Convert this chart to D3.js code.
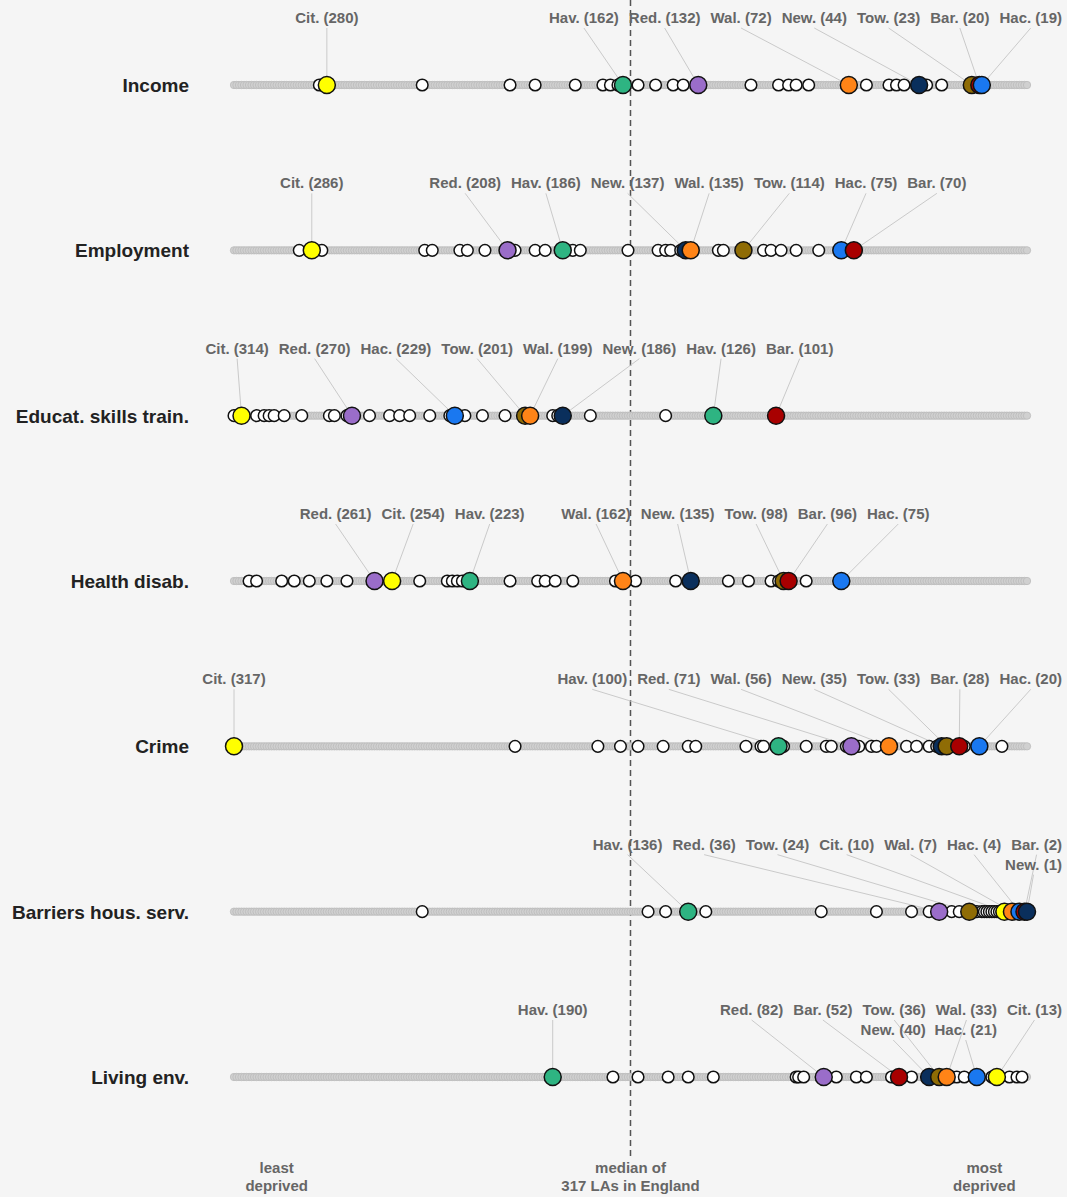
<!DOCTYPE html>
<html><head><meta charset="utf-8">
<script src="https://cdn.jsdelivr.net/npm/d3@7"></script>
<style>body{margin:0;background:#f5f5f5;} svg{display:block;}</style>
</head><body>
<svg id="chart" width="1067" height="1197"></svg>
<script>
// ---------------- data ----------------
const domains = ["Income", "Employment", "Educat. skills train.", "Health disab.", "Crime", "Barriers hous. serv.", "Living env."];
const boroughs = ["Cit.", "Hav.", "Red.", "Wal.", "New.", "Tow.", "Bar.", "Hac."];
// rank (1 = most deprived of 317) per domain, same order as `domains`
const citRanks = [280, 286, 314, 254, 317, 10, 13];
const havRanks = [162, 186, 126, 223, 100, 136, 190];
const redRanks = [132, 208, 270, 261, 71, 36, 82];
const walRanks = [72, 135, 199, 162, 56, 7, 33];
const newRanks = [44, 137, 186, 135, 35, 1, 40];
const towRanks = [23, 114, 201, 98, 33, 24, 36];
const barRanks = [20, 70, 101, 96, 28, 2, 52];
const hacRanks = [19, 75, 229, 75, 20, 4, 21];
// other London LAs, per domain
const otherIncome = [283, 242, 207, 197, 181, 170, 167, 164, 156, 149, 142, 138, 111, 100, 96, 93, 88, 65, 56, 53, 50, 41, 35, 22, 21];
const otherEmployment = [291, 282, 241, 238, 227, 224, 217, 205, 197, 193, 182, 179, 160, 148, 145, 143, 139, 124, 122, 106, 103, 99, 93, 84, 72];
const otherEducation = [317, 313, 308, 305, 303, 301, 297, 290, 279, 277, 272, 263, 255, 251, 247, 239, 231, 225, 218, 209, 200, 190, 188, 175, 145];
const otherHealth = [311, 308, 298, 293, 287, 280, 272, 243, 232, 230, 228, 226, 207, 196, 193, 189, 182, 165, 157, 141, 120, 112, 103, 100, 89];
const otherCrime = [205, 172, 163, 156, 146, 136, 133, 113, 107, 106, 98, 89, 81, 79, 73, 68, 63, 61, 49, 45, 40, 37, 31, 26, 11];
const otherBarriers = [242, 152, 145, 129, 83, 61, 47, 40, 31, 28, 21, 19, 18, 17, 16, 15, 14, 13, 12, 11, 9, 8, 6, 5, 3];
const otherLiving = [166, 156, 144, 136, 126, 93, 92, 90, 77, 69, 65, 55, 47, 38, 34, 31, 29, 26, 22, 15, 14, 12, 8, 5, 3];
const totalLAs = 317;
const medianRank = 159;
const axisTextRanks = [300, 159, 18];
const axisTexts = [["least", "deprived"], ["median of", "317 LAs in England"], ["most", "deprived"]];

// ---------------- assembly ----------------
const rankArrays = [citRanks, havRanks, redRanks, walRanks, newRanks, towRanks, barRanks, hacRanks];
const otherArrays = [otherIncome, otherEmployment, otherEducation, otherHealth, otherCrime, otherBarriers, otherLiving];
const colors = {"Cit.": "#ffff00", "Hav.": "#2eb482", "Red.": "#9a6dc9", "Wal.": "#ff8417",
                "New.": "#0a2f5c", "Tow.": "#8f6c05", "Bar.": "#a80000", "Hac.": "#1a78f0"};
// labels put on a second line, right-aligned under a partner label
const secondLine = {"Barriers hous. serv.": {"New.": "Bar."}, "Living env.": {"New.": "Tow.", "Hac.": "Wal."}};

const svg = d3.select("#chart");
const W = 1067, H = 1197;
svg.append("rect").attr("width", W).attr("height", H).attr("fill", "#f5f5f5");

const x = d3.scaleLinear().domain([totalLAs, 1]).range([234, 1027]);
const y = d3.scaleLinear().domain([0, domains.length - 1]).range([85, 1077]);
const FONT = "'Liberation Sans', Arial, Helvetica, sans-serif";

// text measurement
const meas = svg.append("text").attr("font-family", FONT).attr("font-weight", "bold").attr("font-size", 15).attr("x", -1000).attr("y", -1000);
function tw(s) { meas.text(s); return meas.node().getComputedTextLength(); }

function layout(items, minX, maxX, gap) {
  let clusters = items.map(d => ({items: [d], w: d.w, sum: d.dx, n: 1}));
  const pos = c => { let left = c.sum / c.n - c.w / 2; if (left + c.w > maxX) left = maxX - c.w; if (left < minX) left = minX; return left; };
  let merged = true;
  while (merged) {
    merged = false;
    for (let i = 0; i < clusters.length - 1; i++) {
      const a = clusters[i], b = clusters[i + 1];
      if (pos(a) + a.w + gap > pos(b)) {
        clusters.splice(i, 2, {items: a.items.concat(b.items), w: a.w + gap + b.w, sum: a.sum + b.sum, n: a.n + b.n});
        merged = true; break;
      }
    }
  }
  clusters.forEach(c => { let left = pos(c); c.items.forEach(d => { d.lx = left + d.w / 2; left += d.w + gap; }); });
}

// median line
svg.append("line").attr("x1", x(medianRank)).attr("x2", x(medianRank)).attr("y1", 0).attr("y2", 1158)
  .attr("stroke", "#555").attr("stroke-width", 1.5).attr("stroke-dasharray", "6,4");

domains.forEach((dom, i) => {
  const ry = y(i);
  const g = svg.append("g");
  // row title
  g.append("text").attr("x", 189).attr("y", ry + 7).attr("text-anchor", "end")
    .attr("font-family", FONT).attr("font-weight", "bold").attr("font-size", 19).attr("fill", "#222").text(dom);
  // band of all LAs
  g.selectAll("circle.all").data(d3.range(totalLAs, 0, -1)).join("circle").attr("class", "all")
    .attr("cx", d => x(d)).attr("cy", ry).attr("r", 3.7)
    .attr("fill", "#d0d0d0").attr("stroke", "#b8b8b8").attr("stroke-width", 0.7);

  // labels
  const items = boroughs.map((b, j) => {
    const r = rankArrays[j][i];
    const text = `${b} (${r})`;
    return {b, r, text, dx: x(r), w: tw(text)};
  });
  const sl = secondLine[dom] || {};
  const row1 = items.filter(d => !sl[d.b]).sort((a, b) => a.dx - b.dx);
  const row2 = items.filter(d => sl[d.b]);
  layout(row1, 5, 1062, 10);
  row1.forEach(d => d.ly = ry - 62);
  row2.forEach(d => { const p = items.find(e => e.b === sl[d.b]); d.lx = p.lx + p.w / 2 - d.w / 2; d.ly = ry - 42; });

  g.selectAll("line.lead").data(items).join("line").attr("class", "lead")
    .attr("x1", d => d.lx).attr("y1", d => d.ly + 5).attr("x2", d => d.dx).attr("y2", ry)
    .attr("stroke", "#cacaca").attr("stroke-width", 1);
  g.selectAll("text.lab").data(items).join("text").attr("class", "lab")
    .attr("x", d => d.lx).attr("y", d => d.ly).attr("text-anchor", "middle")
    .attr("font-family", FONT).attr("font-weight", "bold").attr("font-size", 15).attr("fill", "#666")
    .text(d => d.text);

  // other London LAs
  const others = otherArrays[i].slice().sort((a, b) => b - a);
  g.selectAll("circle.oth").data(others).join("circle").attr("class", "oth")
    .attr("cx", d => x(d)).attr("cy", ry).attr("r", 5.8)
    .attr("fill", "#fff").attr("stroke", "#111").attr("stroke-width", 1.5);
  // highlighted
  const hl = items.slice().sort((a, b) => b.r - a.r);
  g.selectAll("circle.hl").data(hl).join("circle").attr("class", "hl")
    .attr("cx", d => d.dx).attr("cy", ry).attr("r", 8.5)
    .attr("fill", d => colors[d.b]).attr("stroke", "#111").attr("stroke-width", 1.5);
});

// bottom axis texts
axisTexts.forEach((lines, k) => {
  lines.forEach((s, m) => {
    svg.append("text").attr("x", x(axisTextRanks[k])).attr("y", 1173 + m * 18).attr("text-anchor", "middle")
      .attr("font-family", FONT).attr("font-weight", "bold").attr("font-size", 15).attr("fill", "#666").text(s);
  });
});
meas.remove();
</script>
</body></html>
